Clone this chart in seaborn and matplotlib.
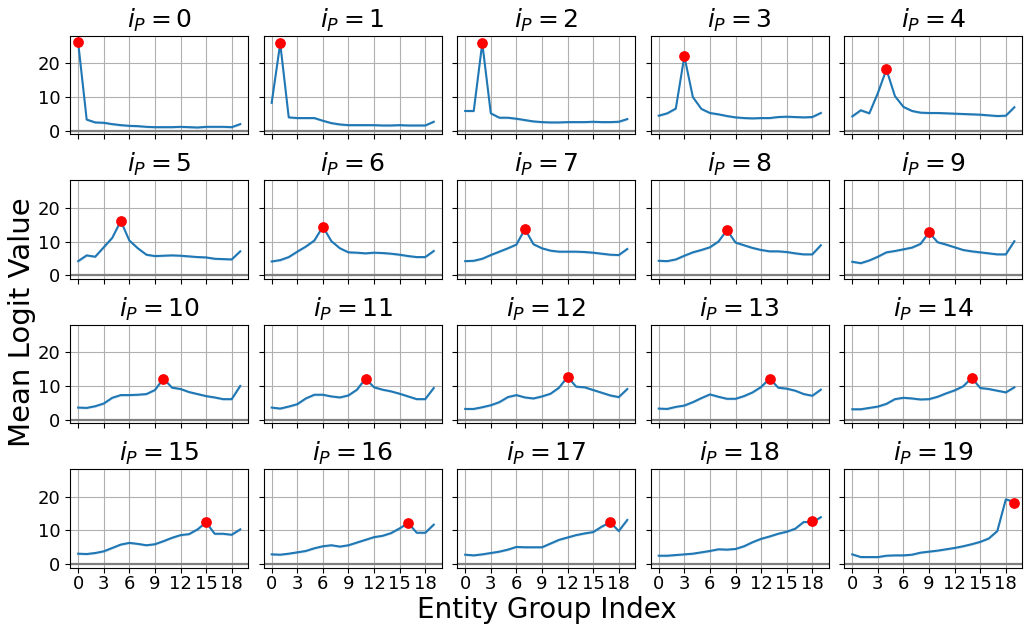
import numpy as np
import pandas as pd
import matplotlib
matplotlib.use("Agg")
import matplotlib.pyplot as plt
import seaborn as sns

# Entity group indices on the x axis
groups = list(range(20))
xticks = [0, 3, 6, 9, 12, 15, 18]
yticks = [0, 10, 20]

# Mean logit value per entity group, one curve per probed position i_P
curve_00 = [26.2, 3.35, 2.5, 2.4, 2.0, 1.7, 1.5, 1.4, 1.2, 1.1, 1.1, 1.1, 1.2, 1.1, 1.0, 1.2, 1.2, 1.2, 1.1, 2.0]
curve_01 = [8.3, 25.9, 4.0, 3.8, 3.8, 3.8, 3.0, 2.3, 1.9, 1.7, 1.7, 1.7, 1.7, 1.6, 1.6, 1.7, 1.6, 1.6, 1.6, 2.7]
curve_02 = [5.9, 5.9, 26.0, 5.2, 3.9, 3.9, 3.6, 3.2, 2.8, 2.6, 2.5, 2.5, 2.6, 2.6, 2.6, 2.7, 2.6, 2.6, 2.7, 3.5]
curve_03 = [4.5, 5.2, 6.6, 22.1, 10.0, 6.5, 5.3, 4.9, 4.4, 4.0, 3.8, 3.7, 3.8, 3.8, 4.1, 4.2, 4.1, 4.0, 4.1, 5.3]
curve_04 = [4.3, 6.1, 5.2, 11.2, 18.2, 10.3, 7.1, 5.9, 5.4, 5.3, 5.3, 5.2, 5.1, 5.0, 4.9, 4.8, 4.6, 4.4, 4.5, 7.0]
curve_05 = [4.2, 5.9, 5.5, 8.3, 11.1, 16.1, 10.3, 8.0, 6.1, 5.7, 5.8, 5.9, 5.8, 5.6, 5.4, 5.3, 4.9, 4.8, 4.7, 7.1]
curve_06 = [4.1, 4.5, 5.4, 7.0, 8.5, 10.3, 14.4, 10.1, 8.0, 6.8, 6.7, 6.5, 6.7, 6.6, 6.4, 6.1, 5.7, 5.4, 5.4, 7.2]
curve_07 = [4.2, 4.3, 4.9, 6.0, 7.0, 8.0, 9.1, 13.7, 9.2, 8.0, 7.3, 7.0, 7.0, 7.0, 6.9, 6.7, 6.4, 6.1, 6.0, 7.8]
curve_08 = [4.3, 4.2, 4.7, 5.8, 6.8, 7.5, 8.3, 10.0, 13.4, 9.7, 8.9, 8.1, 7.5, 7.1, 7.1, 6.9, 6.5, 6.2, 6.2, 8.9]
curve_09 = [4.0, 3.6, 4.4, 5.5, 6.8, 7.2, 7.7, 8.2, 9.3, 12.7, 9.8, 9.1, 8.3, 7.5, 7.1, 6.8, 6.5, 6.2, 6.2, 10.1]
curve_10 = [3.6, 3.5, 4.0, 4.8, 6.5, 7.3, 7.3, 7.4, 7.6, 8.8, 12.2, 9.5, 9.1, 8.2, 7.6, 7.0, 6.6, 6.1, 6.1, 10.0]
curve_11 = [3.6, 3.3, 3.9, 4.6, 6.3, 7.4, 7.4, 6.9, 6.6, 7.2, 8.9, 12.2, 9.6, 8.9, 8.4, 7.7, 6.9, 6.1, 6.1, 9.4]
curve_12 = [3.2, 3.2, 3.7, 4.3, 5.2, 6.7, 7.3, 6.6, 6.3, 6.9, 7.7, 9.5, 12.7, 9.8, 9.6, 8.8, 8.0, 7.2, 6.7, 9.1]
curve_13 = [3.3, 3.2, 3.8, 4.2, 5.2, 6.4, 7.5, 6.8, 6.2, 6.2, 7.0, 8.1, 9.7, 12.2, 9.5, 9.2, 8.6, 7.6, 7.1, 8.9]
curve_14 = [3.1, 3.1, 3.5, 3.9, 4.7, 6.1, 6.5, 6.3, 6.0, 6.1, 6.8, 7.8, 8.7, 9.9, 12.4, 9.4, 9.1, 8.6, 8.1, 9.6]
curve_15 = [3.1, 3.0, 3.3, 3.8, 4.8, 5.8, 6.3, 6.0, 5.6, 5.9, 6.8, 7.8, 8.6, 8.9, 10.3, 12.4, 9.0, 9.0, 8.7, 10.3]
curve_16 = [2.9, 2.8, 3.1, 3.5, 3.9, 4.7, 5.3, 5.6, 5.2, 5.6, 6.4, 7.2, 8.0, 8.4, 9.2, 10.6, 12.2, 9.3, 9.3, 11.7]
curve_17 = [2.8, 2.6, 2.9, 3.3, 3.7, 4.3, 5.1, 5.0, 5.0, 5.0, 6.1, 7.2, 7.9, 8.6, 9.1, 9.5, 11.1, 12.4, 9.8, 13.1]
curve_18 = [2.5, 2.5, 2.7, 2.9, 3.1, 3.5, 3.9, 4.4, 4.3, 4.5, 5.3, 6.5, 7.5, 8.2, 9.0, 9.6, 10.5, 12.5, 12.4, 13.9]
curve_19 = [2.9, 2.1, 2.1, 2.1, 2.5, 2.6, 2.6, 2.8, 3.4, 3.7, 4.0, 4.4, 4.8, 5.3, 5.9, 6.6, 7.6, 9.8, 19.2, 18.4]

curves = [curve_00, curve_01, curve_02, curve_03, curve_04,
          curve_05, curve_06, curve_07, curve_08, curve_09,
          curve_10, curve_11, curve_12, curve_13, curve_14,
          curve_15, curve_16, curve_17, curve_18, curve_19]

# Mean logit of the entity group matching the probed position
probe_values = [26.2, 25.9, 26.0, 22.1, 18.2, 16.1, 14.4, 13.7, 13.4, 12.7,
                12.2, 12.2, 12.7, 12.2, 12.4, 12.4, 12.2, 12.4, 12.7, 18.1]

# Half-width of the shaded uncertainty band around each curve
band_halfwidth = 0.35

line_color = "#1f77b4"

fig, axes = plt.subplots(4, 5, figsize=(10.24, 6.24), dpi=100,
                         sharex=True, sharey=True)
fig.subplots_adjust(left=0.0684, right=0.9985, top=0.9423, bottom=0.0905,
                    wspace=0.0855, hspace=0.47)

for p, ax in enumerate(axes.flat):
    df = pd.DataFrame({"group": groups, "logit": curves[p]})
    vals = np.asarray(curves[p])
    ax.fill_between(groups, vals - band_halfwidth, vals + band_halfwidth,
                    color=line_color, alpha=0.2, linewidth=0)
    sns.lineplot(data=df, x="group", y="logit", ax=ax, color=line_color,
                 linewidth=1.5, errorbar=None)
    ax.scatter([groups[p]], [probe_values[p]], color="red", s=45, zorder=5)
    ax.axhline(0, color="gray", linewidth=1.6, zorder=1)
    ax.grid(True, color="#b0b0b0", linewidth=0.8)
    ax.set_axisbelow(True)
    ax.set_title(rf"$i_P = {p}$", fontsize=18)
    ax.set_xlabel("")
    ax.set_ylabel("")
    ax.tick_params(labelsize=13)
    ax.tick_params(axis="x", pad=2)

axes[0, 0].set_xticks(xticks)
axes[0, 0].set_yticks(yticks)
axes[0, 0].set_xlim(-0.95, 19.95)
axes[0, 0].set_ylim(-1.0, 28.1)

fig.text(0.534, 0.0, "Entity Group Index", ha="center", va="bottom", fontsize=20)
fig.text(0.008, 0.483, "Mean Logit Value", ha="left", va="center",
         rotation=90, fontsize=21)

fig.savefig("out.png", dpi=100)
